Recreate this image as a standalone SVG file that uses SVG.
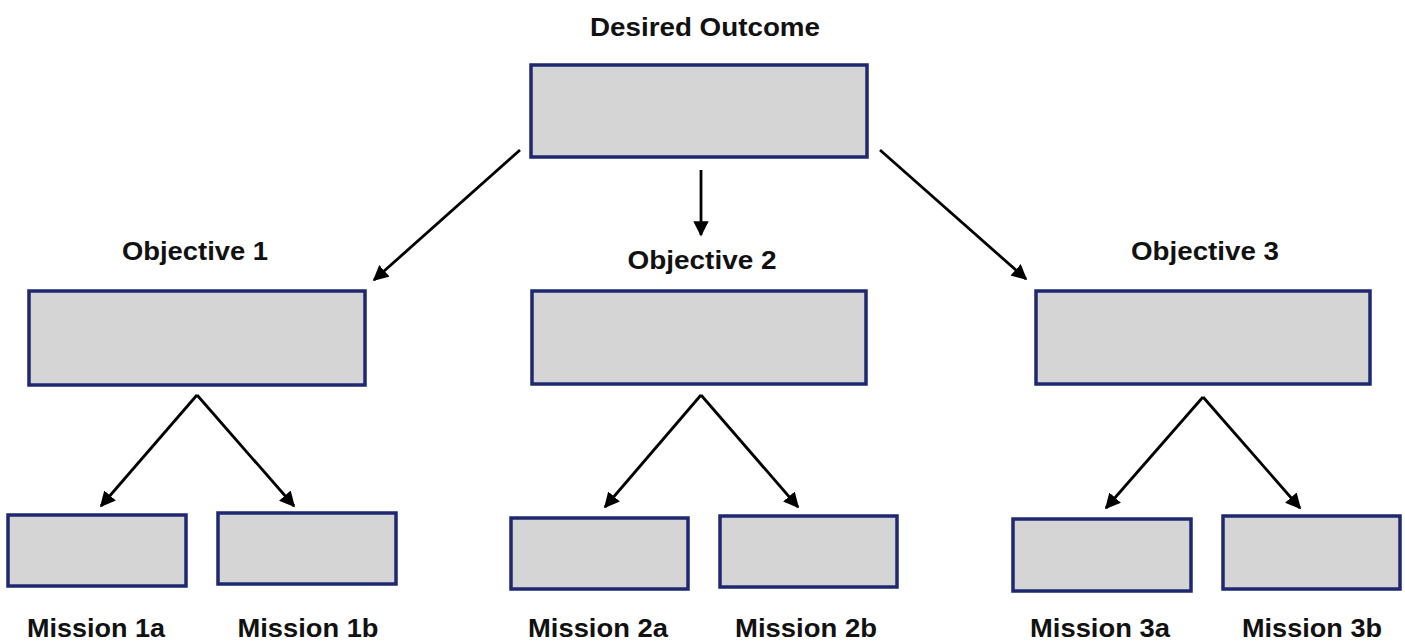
<svg xmlns="http://www.w3.org/2000/svg" width="1405" height="642" viewBox="0 0 1405 642">
<style>
.box{fill:#d5d5d5;stroke:#1e2870;stroke-width:3.5}
.lbl{font-family:"Liberation Sans",Arial,sans-serif;font-weight:bold;font-size:26px;fill:#111;text-anchor:middle}
.con{stroke:#000;stroke-width:2.8;fill:none;marker-end:url(#ah)}
</style>
<defs>
<marker id="ah" viewBox="0 0 10 10" refX="9" refY="5" markerWidth="5.5" markerHeight="5.5" markerUnits="strokeWidth" orient="auto">
<path d="M0,0 L10,5 L0,10 z" fill="#000"/>
</marker>
</defs>
<rect width="1405" height="642" fill="#fff"/>
<g id="connectors">
<line class="con" x1="520" y1="150" x2="374" y2="280"/>
<line class="con" x1="701" y1="170" x2="701" y2="235"/>
<line class="con" x1="880" y1="150" x2="1026" y2="279"/>
<line class="con" x1="197" y1="395" x2="101" y2="506"/>
<line class="con" x1="197" y1="395" x2="294" y2="506"/>
<line class="con" x1="701" y1="395" x2="605" y2="507"/>
<line class="con" x1="701" y1="395" x2="798" y2="507"/>
<line class="con" x1="1203" y1="397" x2="1106" y2="508"/>
<line class="con" x1="1203" y1="397" x2="1300" y2="508"/>
</g>
<g id="desired-outcome">
<rect class="box" x="531" y="65" width="336" height="92"/>
<text class="lbl" x="705" y="36" textLength="230" lengthAdjust="spacingAndGlyphs">Desired Outcome</text>
</g>
<g id="objective-1">
<rect class="box" x="29" y="291" width="336" height="94"/>
<text class="lbl" x="195" y="260" textLength="146" lengthAdjust="spacingAndGlyphs">Objective 1</text>
</g>
<g id="objective-2">
<rect class="box" x="532" y="291" width="334" height="93"/>
<text class="lbl" x="702" y="269" textLength="149" lengthAdjust="spacingAndGlyphs">Objective 2</text>
</g>
<g id="objective-3">
<rect class="box" x="1036" y="291" width="334" height="93"/>
<text class="lbl" x="1205" y="260" textLength="148" lengthAdjust="spacingAndGlyphs">Objective 3</text>
</g>
<g id="mission-1a">
<rect class="box" x="8" y="515" width="178" height="71"/>
<text class="lbl" x="96" y="637" textLength="138" lengthAdjust="spacingAndGlyphs">Mission 1a</text>
</g>
<g id="mission-1b">
<rect class="box" x="218" y="513" width="178" height="71"/>
<text class="lbl" x="308" y="637" textLength="141" lengthAdjust="spacingAndGlyphs">Mission 1b</text>
</g>
<g id="mission-2a">
<rect class="box" x="511" y="518" width="177" height="71"/>
<text class="lbl" x="598" y="637" textLength="140" lengthAdjust="spacingAndGlyphs">Mission 2a</text>
</g>
<g id="mission-2b">
<rect class="box" x="720" y="516" width="177" height="71"/>
<text class="lbl" x="806" y="637" textLength="142" lengthAdjust="spacingAndGlyphs">Mission 2b</text>
</g>
<g id="mission-3a">
<rect class="box" x="1013" y="519" width="178" height="72"/>
<text class="lbl" x="1100" y="637" textLength="140" lengthAdjust="spacingAndGlyphs">Mission 3a</text>
</g>
<g id="mission-3b">
<rect class="box" x="1223" y="516" width="177" height="73"/>
<text class="lbl" x="1312" y="637" textLength="140" lengthAdjust="spacingAndGlyphs">Mission 3b</text>
</g>
</svg>
